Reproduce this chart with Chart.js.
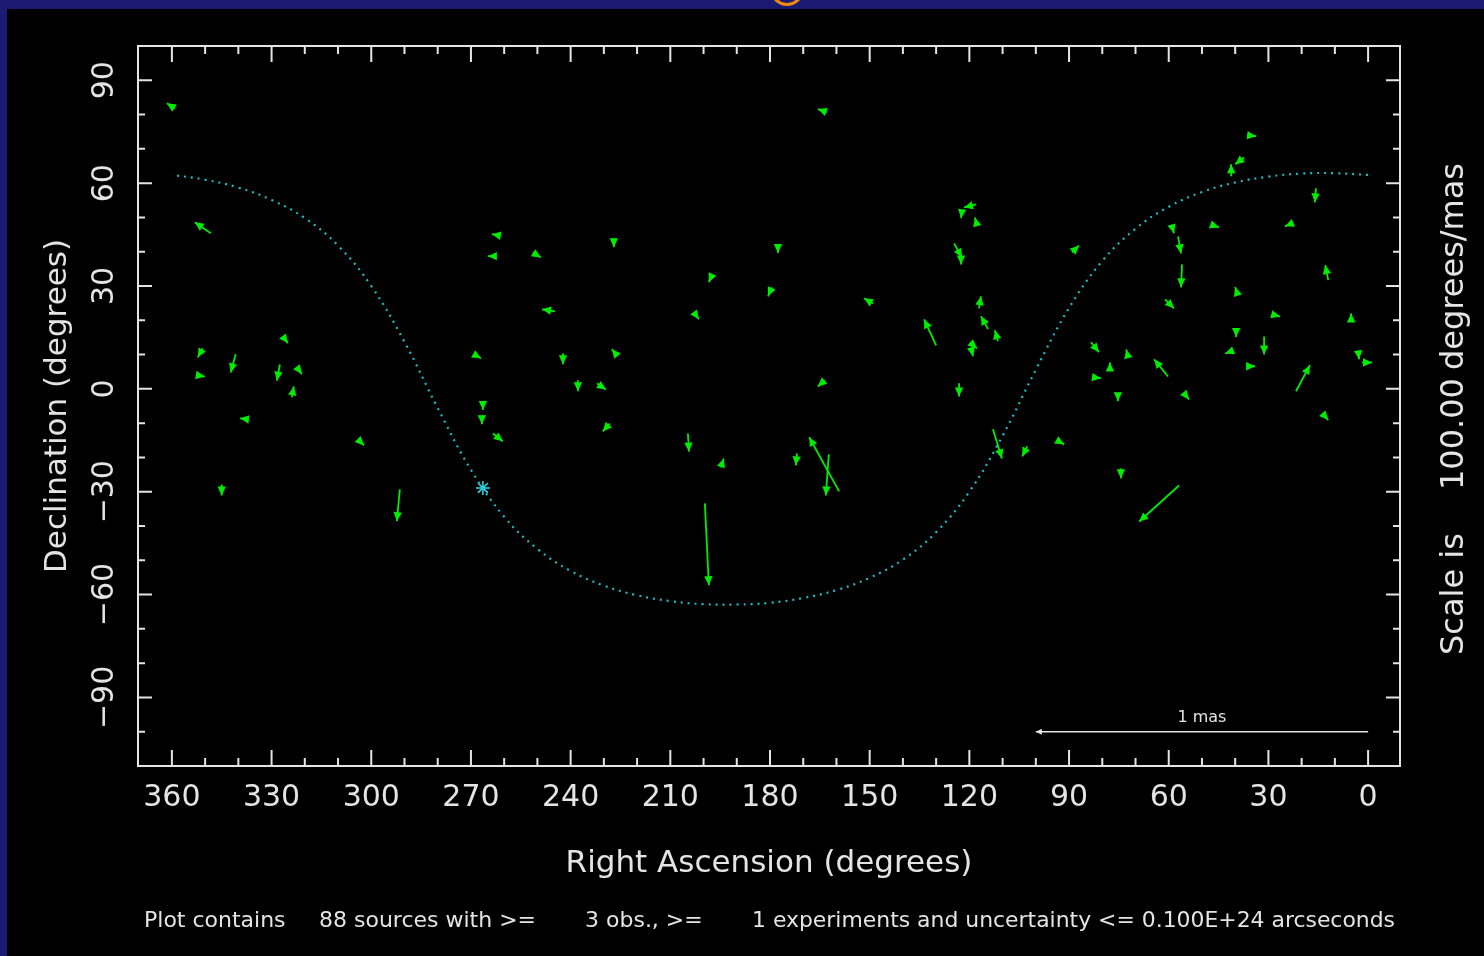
<!DOCTYPE html>
<html>
<head>
<meta charset="utf-8">
<script src="https://cdn.jsdelivr.net/npm/chart.js@4.4.0/dist/chart.umd.min.js"></script>
<style>
  html, body { margin: 0; padding: 0; width: 1484px; height: 956px; overflow: hidden; background: #1a1a72; }
  #sun { position: absolute; left: 770px; top: -28px; width: 28px; height: 28px; border: 3px solid #f08a10; border-radius: 50%; }
  #plot { position: absolute; left: 7px; top: 9px; width: 1477px; height: 947px; background: #000; }
</style>
</head>
<body>
<div id="sun"></div>
<div id="plot"><canvas id="chart"></canvas></div>
<script>
// source positions (degrees) and motion vectors (mas)
const raDeg = [359.1, 348.3, 350.7, 351.9, 340.8, 326.6, 327.5, 322.4, 323.9, 337.1, 345.0, 303.7, 291.4, 262.5, 251.4, 227.0, 197.5, 179.4, 177.6, 244.7,
  202.9, 269.1, 242.3, 226.1, 237.8, 232.1, 266.4, 266.7, 263.4, 228.2, 204.7, 194.8, 199.6, 124.6, 122.5, 89.1, 149.0, 117.1, 130.0, 114.4,
  111.4, 119.8, 119.5, 163.5, 123.1, 83.4, 82.8, 171.9, 159.2, 162.3, 112.9, 102.6, 93.6, 36.4, 37.3, 41.2, 15.7, 59.0, 57.2, 46.7,
  23.5, 56.0, 12.0, 39.4, 61.1, 28.9, 5.1, 39.7, 31.3, 40.6, 72.2, 77.7, 60.2, 36.4, 21.7, 3.0, 1.8, 75.3, 55.4, 13.8,
  74.4, 56.9, 118.0, 122.2, 117.7, 162.9, 261.9];
const decDeg = [81.8, 45.4, 11.8, 3.9, 10.1, 15.3, 7.1, 6.3, -2.5, -8.9, -27.9, -15.0, -29.3, 38.7, 39.8, 43.9, 33.1, 29.6, 41.6, 22.6,
  22.3, 10.1, 10.4, 9.8, 2.5, 1.6, -3.9, -7.7, -13.0, -10.1, -13.0, -22.9, -33.4, 42.4, 38.9, 39.8, 24.9, 23.5, 12.7, 17.4,
  13.9, 13.6, 12.1, 2.5, 1.6, 13.6, 3.4, -18.8, -29.9, -19.1, -11.8, -16.8, -15.0, 74.0, 67.5, 62.0, 58.5, 47.4, 44.5, 47.7,
  48.0, 36.3, 31.7, 27.9, 26.1, 21.7, 20.0, 17.4, 15.3, 11.2, 9.2, 5.4, 3.6, 6.6, -0.7, 11.2, 7.7, -1.3, -1.3, -7.1,
  -23.2, -28.2, 53.8, 52.1, 47.7, 80.7, 44.8];
const dRaMas = [0.024, 0.048, 0.015, -0.018, 0.015, -0.015, 0.009, -0.015, -0.006, 0.024, 0, -0.015, 0.009, 0.024, -0.024, 0, 0.009, 0.012, 0, 0.039,
  -0.015, -0.021, 0, 0.015, 0, -0.027, 0, 0, -0.030, 0.021, -0.003, -0.009, -0.012, -0.024, 0, -0.021, 0.027, -0.006, 0.036, 0.021,
  0.009, -0.021, -0.006, 0.021, 0, -0.024, -0.024, 0.003, 0.090, 0.009, -0.027, 0.015, -0.021, -0.027, 0.027, 0, 0.003, -0.006, -0.009, -0.018,
  0.015, 0.003, 0.009, 0.006, -0.027, -0.024, 0, 0, 0, 0.024, 0.006, 0, 0.042, -0.024, -0.042, -0.003, -0.030, 0, -0.015, -0.018,
  0, 0.120, 0.036, 0.003, 0.006, 0.027, 0.018];
const dDecMas = [0.015, 0.032, -0.026, -0.003, -0.053, -0.020, -0.047, -0.020, 0.032, 0.003, -0.032, -0.015, -0.093, 0, -0.015, -0.026, -0.020, -0.026, -0.020, 0.006,
  -0.020, -0.012, -0.032, 0.018, -0.032, -0.018, -0.023, -0.026, -0.023, -0.023, -0.053, 0.026, -0.239, -0.041, -0.026, 0.020, 0.015, 0.035, 0.076, 0.038,
  0.032, -0.018, -0.026, -0.018, -0.038, -0.029, -0.003, -0.035, 0.158, -0.120, -0.085, -0.029, -0.012, -0.003, -0.020, 0.035, -0.041, -0.020, -0.050, -0.006,
  -0.006, -0.067, 0.044, 0.018, -0.026, -0.006, 0.020, -0.023, -0.053, -0.009, 0.023, 0.023, 0.050, 0, 0.076, -0.026, 0, -0.023, -0.018, -0.020,
  -0.029, -0.105, -0.009, -0.023, 0.023, 0.009, 0.003];

// galactic plane
const planeRa = [0, 10, 20, 30, 40, 50, 60, 70, 80, 90, 100, 110, 120, 130, 140, 150, 160, 170, 180,
  190, 200, 210, 220, 230, 240, 250, 260, 270, 280, 290, 300, 310, 320, 330, 340, 350, 360];
const planeDec = [62.4, 62.9, 62.8, 61.9, 60.2, 57.4, 53.1, 46.7, 37.3, 23.6, 5.6, -13.7, -30.0, -41.8, -49.8, -55.1, -58.7, -61.0, -62.4,
  -62.9, -62.8, -61.9, -60.2, -57.4, -53.1, -46.7, -37.3, -23.6, -5.6, 13.7, 30.0, 41.8, 49.8, 55.1, 58.7, 61.0, 62.4];
const galCenter = [{ x: 266.4, y: -28.9 }];

const xTickValues = [0, 30, 60, 90, 120, 150, 180, 210, 240, 270, 300, 330, 360];
const yTickValues = [-90, -60, -30, 0, 30, 60, 90];
const degPerMas = 100;
const scaleBar = { ra: 0, dec: -100, mas: 1, labelDec: -96 };

const white = '#e4e4e4';
const green = '#00ec00';
Chart.defaults.font.family = "'DejaVu Sans', sans-serif";

function drawArrow(ctx, x0, y0, x1, y1, head, half) {
    const dx = x1 - x0, dy = y1 - y0, len = Math.hypot(dx, dy);
    if (len < 0.5) return;
    const ux = dx / len, uy = dy / len;
    ctx.beginPath();
    ctx.moveTo(x0, y0);
    ctx.lineTo(x1, y1);
    ctx.stroke();
    const bx = x1 - ux * head, by = y1 - uy * head;
    ctx.beginPath();
    ctx.moveTo(x1, y1);
    ctx.lineTo(bx - uy * half, by + ux * half);
    ctx.lineTo(bx + uy * half, by - ux * half);
    ctx.closePath();
    ctx.fill();
}

const overlay = {
    id: 'overlay',
    afterDatasetsDraw(chart) {
        const { ctx, chartArea: a, scales: { x, y } } = chart;
        ctx.save();

        // frame and inward ticks
        ctx.strokeStyle = white;
        ctx.lineWidth = 2;
        ctx.strokeRect(a.left, a.top, a.width, a.height);
        ctx.beginPath();
        for (let v = 0; v <= 360; v += 10) {
            const px = x.getPixelForValue(v);
            const len = v % 30 === 0 ? 16 : 8;
            ctx.moveTo(px, a.bottom); ctx.lineTo(px, a.bottom - len);
            ctx.moveTo(px, a.top); ctx.lineTo(px, a.top + len);
        }
        for (let v = -100; v <= 90; v += 10) {
            const py = y.getPixelForValue(v);
            const len = v % 30 === 0 ? 14 : 7;
            ctx.moveTo(a.left, py); ctx.lineTo(a.left + len, py);
            ctx.moveTo(a.right, py); ctx.lineTo(a.right - len, py);
        }
        ctx.stroke();

        // y tick labels, rotated
        ctx.fillStyle = white;
        ctx.font = "30px 'DejaVu Sans'";
        ctx.textAlign = 'center';
        ctx.textBaseline = 'middle';
        yTickValues.forEach(v => {
            ctx.save();
            ctx.translate(98, y.getPixelForValue(v));
            ctx.rotate(-Math.PI / 2);
            ctx.fillText(String(v).replace('-', '\u2212'), 0, 0);
            ctx.restore();
        });

        // motion arrows
        ctx.save();
        ctx.beginPath();
        ctx.rect(a.left, a.top, a.width, a.height);
        ctx.clip();
        ctx.strokeStyle = green;
        ctx.fillStyle = green;
        ctx.lineWidth = 1.8;
        raDeg.forEach((ra, i) => {
            const dec = decDeg[i];
            drawArrow(ctx,
                x.getPixelForValue(ra), y.getPixelForValue(dec),
                x.getPixelForValue(ra + dRaMas[i] * degPerMas), y.getPixelForValue(dec + dDecMas[i] * degPerMas),
                9, 4.2);
        });

        // scale bar
        ctx.strokeStyle = white;
        ctx.fillStyle = white;
        ctx.lineWidth = 1.5;
        drawArrow(ctx,
            x.getPixelForValue(scaleBar.ra), y.getPixelForValue(scaleBar.dec),
            x.getPixelForValue(scaleBar.ra + scaleBar.mas * degPerMas), y.getPixelForValue(scaleBar.dec),
            6, 3);
        ctx.font = "16px 'DejaVu Sans'";
        ctx.fillText('1 mas', x.getPixelForValue(scaleBar.ra + scaleBar.mas * degPerMas / 2), y.getPixelForValue(scaleBar.labelDec));
        ctx.restore();

        // right-hand scale note
        ctx.fillStyle = white;
        ctx.font = "32px 'DejaVu Sans'";
        ctx.textAlign = 'left';
        [['Scale is', 646], ['100.00', 481], ['degrees/mas', 361]].forEach(([t, py]) => {
            ctx.save();
            ctx.translate(1448, py);
            ctx.rotate(-Math.PI / 2);
            ctx.fillText(t, 0, 0);
            ctx.restore();
        });

        // footer
        ctx.font = "22px 'DejaVu Sans'";
        [['Plot contains', 137, 142], ['88 sources with >=', 312, 221], ['3 obs., >=', 578, 120],
         ['1 experiments and uncertainty <= 0.100E+24 arcseconds', 745, 643]].forEach(([t, px, w]) => {
            ctx.fillText(t, px, 912, w);
        });
        ctx.restore();
    }
};

new Chart(document.getElementById('chart'), {
    type: 'scatter',
    data: {
        datasets: [{
            type: 'line',
            data: planeRa.map((r, i) => ({ x: r, y: planeDec[i] })),
            showLine: true,
            borderColor: '#1cbcc4',
            borderWidth: 2.2,
            borderDash: [2, 5],
            pointRadius: 0,
            tension: 0.4,
            fill: false
        }, {
            data: galCenter,
            pointStyle: 'star',
            pointRadius: 7,
            borderColor: '#30dcec',
            borderWidth: 1.5
        }]
    },
    options: {
        responsive: true,
        maintainAspectRatio: false,
        animation: false,
        devicePixelRatio: 1,
        layout: { padding: { top: 37, right: 84, left: 0, bottom: 0 } },
        plugins: { legend: { display: false }, tooltip: { enabled: false } },
        scales: {
            x: {
                type: 'linear', min: -9.6, max: 370.2, reverse: true,
                grid: { display: false }, border: { display: false },
                afterBuildTicks: s => { s.ticks = xTickValues.map(v => ({ value: v })); },
                afterFit: s => { s.height = 190; },
                ticks: { color: white, font: { size: 30 }, padding: 6, maxRotation: 0, autoSkip: false },
                title: { display: true, text: 'Right Ascension (degrees)', color: white, font: { size: 31 }, padding: { top: 0, bottom: 73 } }
            },
            y: {
                type: 'linear', min: -110, max: 100,
                grid: { display: false }, border: { display: false },
                afterFit: s => { s.width = 131; },
                ticks: { display: false },
                title: { display: true, text: 'Declination (degrees)', color: white, font: { size: 31 }, padding: { top: 32, bottom: 0 } }
            }
        }
    },
    plugins: [overlay]
});
</script>
</body>
</html>
